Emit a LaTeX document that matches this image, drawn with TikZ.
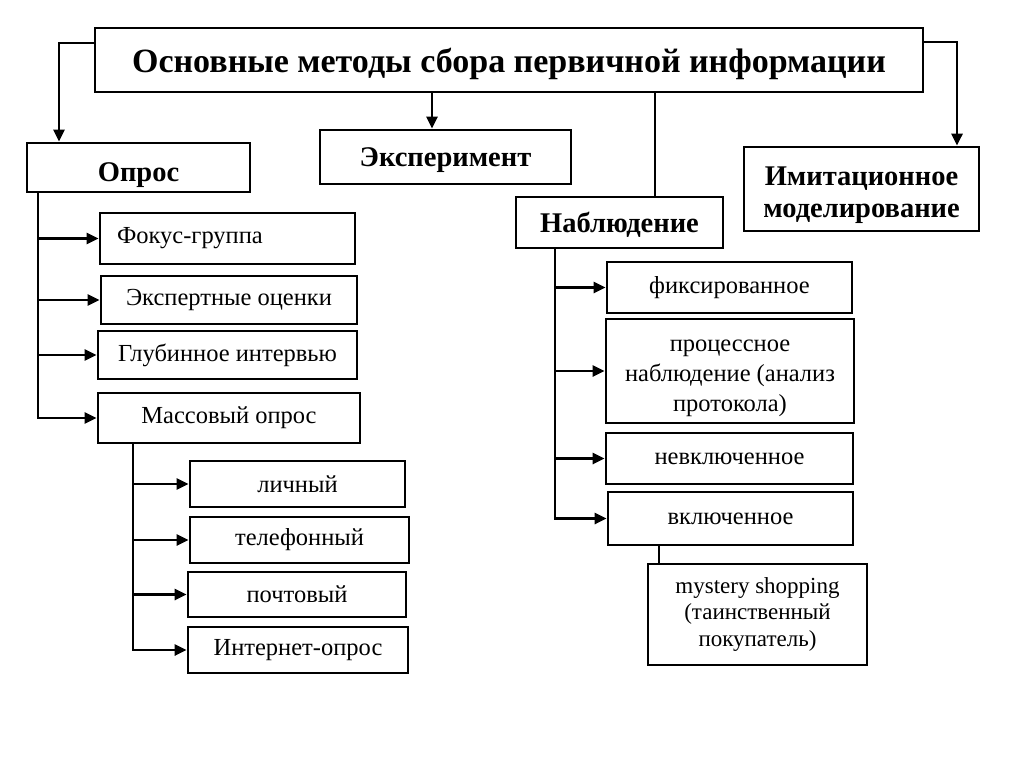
\documentclass[tikz,border=0pt]{standalone}
\usepackage{fontspec}
\setmainfont{Liberation Serif}
\usetikzlibrary{arrows.meta}

\begin{document}
\begin{tikzpicture}[x=1pt,y=-1pt,
  box/.style={draw,line width=2.7pt,inner sep=0pt,font=\fontsize{24.5}{28}\selectfont},
  head/.style={box,font=\bfseries\fontsize{28.5}{32}\selectfont},
  flat/.style={text depth=0pt},
  link/.style={line width=2.7pt},
  arr/.style={link,-{Triangle[length=12pt,width=11pt]}}]

\useasboundingbox (0,0) rectangle (1024,767);

\node[box,flat,font=\bfseries\fontsize{34}{38}\selectfont,minimum width=828pt,minimum height=64pt] (title) at (509,60) {Основные методы сбора первичной информации};

\node[head,flat,text height=29pt,minimum width=223pt,minimum height=49pt] (opros) at (138.5,167.5) {Опрос};
\node[head,flat,minimum width=251pt,minimum height=54pt] (eksp) at (445.5,157) {Эксперимент};
\node[head,flat,minimum width=207pt,minimum height=51pt] (nabl) at (619.5,222.5) {Наблюдение};
\node[head,minimum width=235pt,minimum height=84pt] (imit) at (861.5,189) {\begin{tabular}{@{}c@{}}\rule{0pt}{34pt}Имитационное\\моделирование\end{tabular}};

\draw[arr] ([yshift=17pt]title.west) -| ([xshift=-79.5pt]opros.north);
\draw[arr] ([xshift=-13.5pt]eksp.north |- title.south) -- ([xshift=-13.5pt]eksp.north);
\draw[link] ([xshift=35.5pt]nabl.north |- title.south) -- ([xshift=35.5pt]nabl.north);
\draw[arr] ([yshift=18pt]title.east) -| ([xshift=95.5pt]imit.north);

\node[box,minimum width=255pt,minimum height=51pt,text width=221pt,inner xsep=17pt,align=left] (fokus) at (227.5,238.5) {Фокус-группа};
\node[box,minimum width=256pt,minimum height=48pt] (ekspert) at (229,300) {Экспертные оценки};
\node[box,minimum width=259pt,minimum height=48pt] (glub) at (227.5,355) {Глубинное интервью};
\node[box,minimum width=262pt,minimum height=50pt] (massov) at (229,418) {Массовый опрос};

\draw[arr] ([xshift=-100.5pt]opros.south) |- (massov.west);
\draw[arr] ([xshift=-100.5pt]opros.south |- fokus.west) -- (fokus.west);
\draw[arr] ([xshift=-100.5pt]opros.south |- ekspert.west) -- (ekspert.west);
\draw[arr] ([xshift=-100.5pt]opros.south |- glub.west) -- (glub.west);

\node[box,minimum width=215pt,minimum height=46pt] (lichn) at (297.5,484) {личный};
\node[box,minimum width=219pt,minimum height=46pt] (telef) at (299.5,540) {телефонный};
\node[box,minimum width=218pt,minimum height=45pt] (pocht) at (297,594.5) {почтовый};
\node[box,minimum width=220pt,minimum height=46pt] (internet) at (298,650) {Интернет-опрос};

\draw[arr] ([xshift=-96pt]massov.south) |- (internet.west);
\draw[arr] ([xshift=-96pt]massov.south |- lichn.west) -- (lichn.west);
\draw[arr] ([xshift=-96pt]massov.south |- telef.west) -- (telef.west);
\draw[arr] ([xshift=-96pt]massov.south |- pocht.west) -- (pocht.west);

\node[box,minimum width=245pt,minimum height=51pt] (fiks) at (729.5,287.5) {фиксированное};
\node[box,font=\fontsize{24.5}{30}\selectfont,minimum width=248pt,minimum height=104pt] (process) at (730,371) {\begin{tabular}{@{}c@{}}\rule{0pt}{29pt}процессное\\наблюдение (анализ\\протокола)\end{tabular}};
\node[box,minimum width=247pt,minimum height=51pt] (nevkl) at (729.5,458.5) {невключенное};
\node[box,minimum width=245pt,minimum height=53pt] (vkl) at (730.5,518.5) {включенное};
\node[box,font=\fontsize{23}{26.5}\selectfont,minimum width=219pt,minimum height=101pt] (mystery) at (757.5,614.5) {\begin{tabular}{@{}c@{}}mystery shopping\\(таинственный\\покупатель)\end{tabular}};

\draw[arr] ([xshift=-64.5pt]nabl.south) |- (vkl.west);
\draw[arr] ([xshift=-64.5pt]nabl.south |- fiks.west) -- (fiks.west);
\draw[arr] ([xshift=-64.5pt]nabl.south |- process.west) -- (process.west);
\draw[arr] ([xshift=-64.5pt]nabl.south |- nevkl.west) -- (nevkl.west);
\draw[link] ([xshift=-71.5pt]vkl.south) -- ([xshift=-71.5pt]vkl.south |- mystery.north);
\end{tikzpicture}
\end{document}
